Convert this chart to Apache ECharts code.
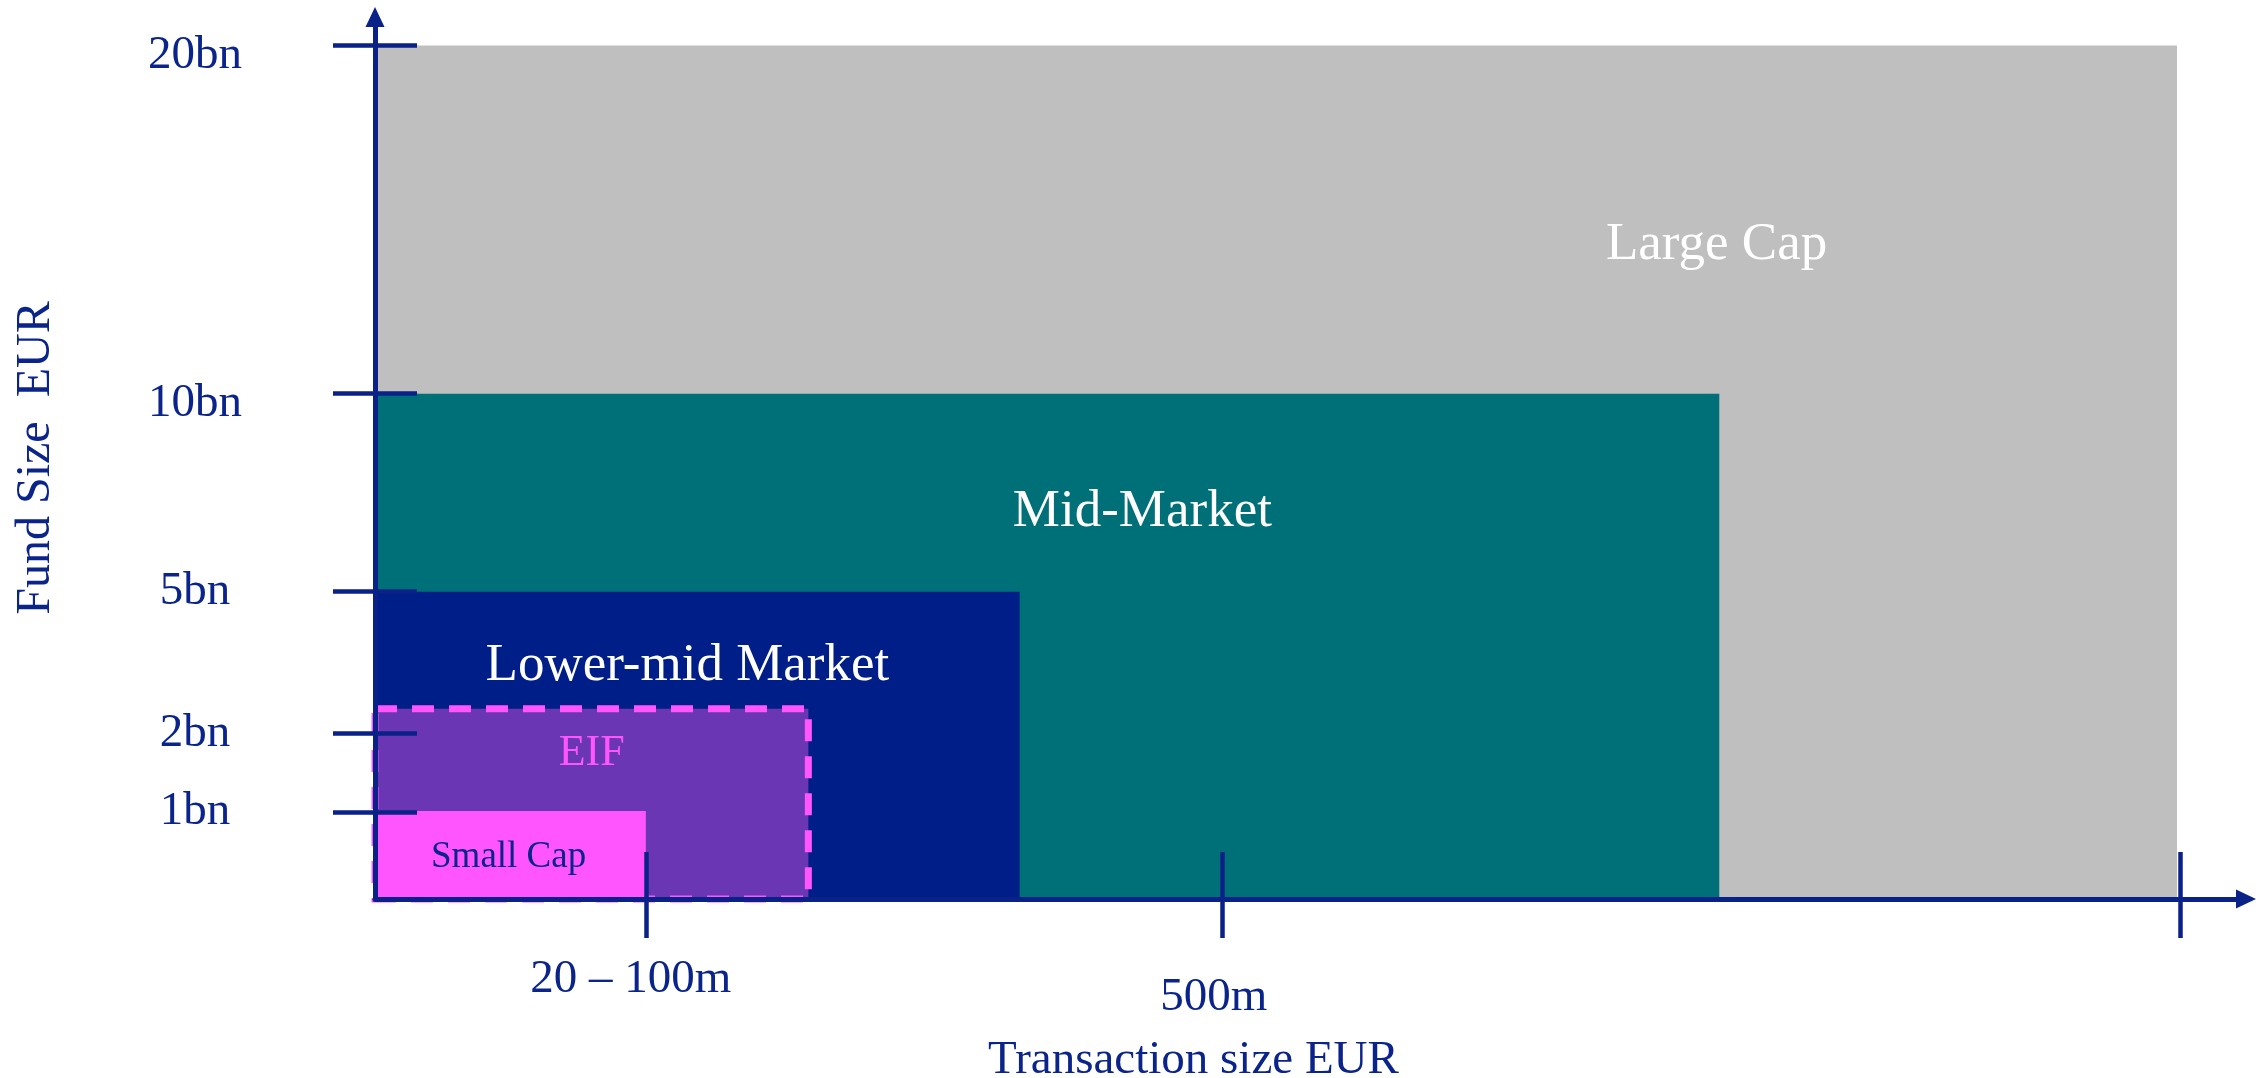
<!DOCTYPE html>
<html>
<head>
<meta charset="utf-8">
<script src="https://cdn.jsdelivr.net/npm/echarts@6/dist/echarts.min.js"></script>
<style>
  html, body { margin: 0; padding: 0; background: #ffffff; }
  #chart { width: 2261px; height: 1078px; }
</style>
</head>
<body>
<div id="chart"></div>
<script>
// ---- Data (schematic units; axes are not to scale) ----
const segments   = ['Large Cap', 'Mid-Market', 'Lower-mid Market', 'EIF', 'Small Cap'];
const segTxMax   = [99.8, 74.45, 35.7, 24, 15];     // transaction-size extent
const segFundMax = [100, 59.2, 36, 22.3, 10.3];     // fund-size extent

const yTickLabels = ['1bn', '2bn', '5bn', '10bn', '20bn'];
const yTickValues = [10.2, 19.4, 36, 59.2, 100];

const xTickLabels = ['20 – 100m', '500m', ''];
const xTickValues = [15, 46.9, 100];

const xAxisName = 'Transaction size EUR';
const yAxisName = 'Fund Size  EUR';

// ---- Styles ----
const FONT = "'Liberation Serif', 'Times New Roman', serif";
const AX = '#0A2288';
const TXT = '#0B248A';
const X_MAX = 103.62, Y_MAX = 103.34;

const segStyle = [
  { fill: '#BFBFBF', text: '#FFFFFF', size: 53, at: [74.3, 76.6] },
  { fill: '#007078', text: '#FFFFFF', size: 53, at: [42.5, 45.3] },
  { fill: '#001E87', text: '#FFFFFF', size: 53, at: [17.3, 27.3] },
  { fill: '#6B36B3', text: '#FF55FF', size: 44, at: [12.0, 17.1], border: '#FF55FF' },
  { fill: '#FF55FF', text: '#0B248A', size: 37, at: [7.4, 4.9] }
];

const chart = echarts.init(document.getElementById('chart'), null, { renderer: 'canvas' });

const option = {
  animation: false,
  backgroundColor: '#FFFFFF',
  grid: { left: 375, right: 15, top: 17, bottom: 179, outerBoundsMode: 'none' },
  xAxis: [
    {
      type: 'value', min: 0, max: X_MAX, z: 10,
      axisLine: { show: true, onZero: true, symbol: ['none', 'triangle'], symbolSize: [19, 20],
                  lineStyle: { color: AX, width: 5 } },
      axisTick: { show: true, inside: false, length: 39, customValues: xTickValues,
                  lineStyle: { color: AX, width: 4.5 } },
      axisLabel: {
        show: true, customValues: xTickValues, margin: 57,
        color: TXT, fontFamily: FONT, fontSize: 47,
        formatter: function (v) {
          const i = xTickValues.indexOf(v);
          if (i < 0 || !xTickLabels[i]) return '';
          return (i === 0 ? '{a|' : '{b|') + xTickLabels[i] + '}';
        },
        rich: {
          a: { color: TXT, fontFamily: FONT, fontSize: 47, padding: [0, 30, 0, 0] },
          b: { color: TXT, fontFamily: FONT, fontSize: 47, padding: [18, 16, 0, 0] }
        }
      },
      splitLine: { show: false },
      name: xAxisName, nameLocation: 'middle', nameGap: 138,
      nameTextStyle: { color: TXT, fontFamily: FONT, fontSize: 47, padding: [0, 234, 0, 0] }
    },
    {
      type: 'value', min: 0, max: X_MAX, z: 10, position: 'bottom',
      axisLine: { show: false },
      axisTick: { show: true, inside: true, length: 47, customValues: xTickValues,
                  lineStyle: { color: AX, width: 4.5 } },
      axisLabel: { show: false },
      splitLine: { show: false }
    }
  ],
  yAxis: [
    {
      type: 'value', min: 0, max: Y_MAX, z: 10,
      axisLine: { show: true, onZero: true, symbol: ['none', 'triangle'], symbolSize: [19, 20],
                  lineStyle: { color: AX, width: 5 } },
      axisTick: { show: true, inside: false, length: 42, customValues: yTickValues,
                  lineStyle: { color: AX, width: 4.5 } },
      axisLabel: {
        show: true, customValues: yTickValues, margin: 180, align: 'center',
        color: TXT, fontFamily: FONT, fontSize: 47,
        formatter: function (v) {
          const i = yTickValues.indexOf(v);
          if (i < 0) return '';
          return (i >= 3 ? '{lo|' : '{n|') + yTickLabels[i] + '}';
        },
        rich: {
          n: { color: TXT, fontFamily: FONT, fontSize: 47 },
          lo: { color: TXT, fontFamily: FONT, fontSize: 47, padding: [20, 0, 0, 0] }
        }
      },
      splitLine: { show: false },
      name: yAxisName, nameLocation: 'middle', nameGap: 315, nameRotate: 90,
      nameTextStyle: { color: TXT, fontFamily: FONT, fontSize: 48 }
    },
    {
      type: 'value', min: 0, max: Y_MAX, z: 10, position: 'left',
      axisLine: { show: false },
      axisTick: { show: true, inside: true, length: 42, customValues: yTickValues,
                  lineStyle: { color: AX, width: 4.5 } },
      axisLabel: { show: false },
      splitLine: { show: false }
    }
  ],
  series: [
    {
      type: 'custom',
      xAxisIndex: 0, yAxisIndex: 0, z: 2,
      encode: { x: [0, 1], y: [2, 3] },
      data: segments.map(function (n, i) { return [0, segTxMax[i], 0, segFundMax[i]]; }),
      renderItem: function (params, api) {
        const i = params.dataIndex;
        const s = segStyle[i];
        const p0 = api.coord([api.value(0), api.value(2)]);
        const p1 = api.coord([api.value(1), api.value(3)]);
        const rectStyle = { fill: s.fill };
        if (s.border) {
          rectStyle.stroke = s.border;
          rectStyle.lineWidth = 7;
          rectStyle.lineDash = [22, 15];
        }
        const lp = api.coord(s.at);
        return {
          type: 'group',
          children: [
            {
              type: 'rect',
              shape: { x: p0[0], y: p1[1], width: p1[0] - p0[0], height: p0[1] - p1[1] },
              style: rectStyle
            },
            {
              type: 'text',
              x: lp[0], y: lp[1],
              style: {
                text: segments[i], fill: s.text,
                fontFamily: FONT, fontSize: s.size,
                align: 'center', verticalAlign: 'middle'
              }
            }
          ]
        };
      }
    }
  ]
};

chart.setOption(option);
</script>
</body>
</html>
